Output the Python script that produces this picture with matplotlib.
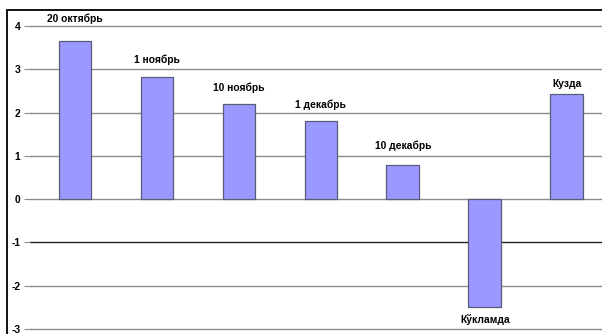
import numpy as np
import matplotlib.pyplot as plt
from matplotlib.patches import Rectangle

# Qiymatlar (rasmdan o'qilgan)
labels = ["20 октябрь", "1 ноябрь", "10 ноябрь", "1 декабрь", "10 декабрь", "Кўкламда", "Кузда"]
values = [3.65, 2.82, 2.2, 1.8, 0.78, -2.5, 2.42]
yticks = [-3, -2, -1, 0, 1, 2, 3, 4]

# yozuvlarning ustundan masofasi (piksel)
label_gap = [22, 17, 16, 17, 20, 12, 10]

W, H = 602, 334
fig = plt.figure(figsize=(W / 100, H / 100), dpi=100)

# diagramma ramkasi
fig.patches.append(Rectangle((7 / W, -0.1), 2, 1.1 - 10 / H, transform=fig.transFigure,
                             fill=False, edgecolor="black", linewidth=1.3))

ax = fig.add_axes([30 / W, 0, 1 - 30 / W, 1 - 10 / H])
x = np.arange(len(values))

for t in yticks:
    col = "#222222" if t == -1 else "#8c8c8c"
    ax.axhline(t, color=col, linewidth=1.0, zorder=1)

ax.bar(x, values, width=0.40, color="#9999ff", edgecolor="#5a5a7a", linewidth=0.9, zorder=2)

for i, (lab, v) in enumerate(zip(labels, values)):
    off = label_gap[i] if v >= 0 else -label_gap[i]
    ax.annotate(lab, (i, v), xytext=(0, off * 0.72), textcoords="offset points",
                ha="center", va="center", fontsize=7.4, fontweight="bold",
                family="Liberation Sans")

ax.set_xlim(-0.55, 6.43)
ax.set_ylim(-3.115, 4.37)
ax.set_yticks(yticks)
ax.set_yticklabels([str(t) for t in yticks], fontsize=7.4, fontweight="bold",
                   family="Liberation Sans")
ax.tick_params(axis="y", length=4, width=0.8, color="#8c8c8c", pad=3)
ax.set_xticks([])
for s in ax.spines.values():
    s.set_visible(False)
ax.patch.set_alpha(0)

fig.savefig("out.png", dpi=100)
